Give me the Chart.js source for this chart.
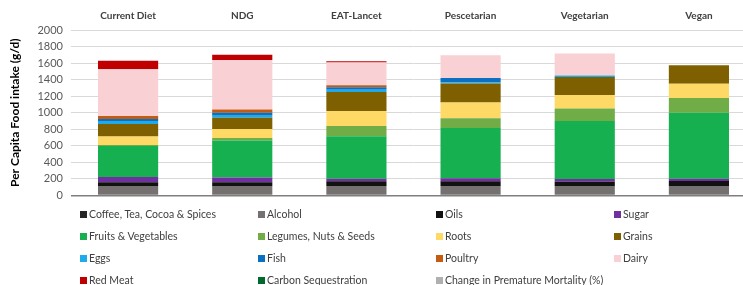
<!DOCTYPE html>
<html>
<head>
<meta charset="utf-8">
<script src="https://cdn.jsdelivr.net/npm/chart.js@4.4.1/dist/chart.umd.min.js"></script>
<style>
  html, body { margin: 0; padding: 0; background: #fff; overflow: hidden; }
  #wrap { position: relative; width: 743px; height: 285px; overflow: hidden; }
  #box { position: absolute; left: 0; top: 0; width: 756px; height: 210px; }
  #legend {
    position: absolute; left: 80px; top: 203px;
    display: grid; grid-template-columns: 178px 178px 178px 130px;
    grid-auto-rows: 22px;
    font-family: Lato, "Liberation Sans", sans-serif; font-size: 10.5px; color: #404040;
  }
  #legend div { display: flex; align-items: center; white-space: nowrap; }
  #legend span.sq { width: 7px; height: 7px; margin-right: 2px; display: inline-block; }
</style>
</head>
<body>
<div id="wrap">
  <div id="box"><canvas id="grafica"></canvas></div>
  <div id="legend"></div>
</div>
<script>
// Dietas (categorías)
const dietas = ['Current Diet', 'NDG', 'EAT-Lancet', 'Pescetarian', 'Vegetarian', 'Vegan'];

// Valores por grupo de alimento (g/d)
const coffee    = [0, 0, 0, 0, 0, 0];
const alcohol   = [113, 113, 113, 113, 113, 113];
const oils      = [45, 45, 57, 57, 52, 60];
const sugar     = [65, 57, 32, 36, 32, 28];
const fruitsVeg = [375, 450, 512, 609, 702, 799];
const legumes   = [10, 28, 125, 117, 153, 177];
const roots     = [105, 109, 182, 190, 161, 174];
const grains    = [150, 137, 230, 230, 218, 222];
const eggs      = [36, 32, 28, 16, 20, 0];
const fish      = [24, 28, 28, 52, 0, 0];
const poultry   = [36, 40, 24, 0, 0, 0];
const dairy     = [565, 597, 275, 275, 266, 0];
const redMeat   = [105, 65, 16, 0, 0, 0];
const carbonSeq = [0, 0, 0, 0, 0, 0];
const mortality = [0, 0, 0, 0, 0, 0];

// Ticks del eje Y
const yTicks = [0, 200, 400, 600, 800, 1000, 1200, 1400, 1600, 1800, 2000];

const series = [
  ['Coffee, Tea, Cocoa & Spices', coffee, '#262626'],
  ['Alcohol', alcohol, '#767171'],
  ['Oils', oils, '#111111'],
  ['Sugar', sugar, '#7030a0'],
  ['Fruits & Vegetables', fruitsVeg, '#17b050'],
  ['Legumes, Nuts & Seeds', legumes, '#70ad47'],
  ['Roots', roots, '#ffd966'],
  ['Grains', grains, '#7f6000'],
  ['Eggs', eggs, '#1eaaeb'],
  ['Fish', fish, '#0a70c2'],
  ['Poultry', poultry, '#c55a11'],
  ['Dairy', dairy, '#f9d0d3'],
  ['Red Meat', redMeat, '#c00000'],
  ['Carbon Sequestration', carbonSeq, '#00692e'],
  ['Change in Premature Mortality (%)', mortality, '#b0b0b0']
];

const chart = new Chart(document.getElementById('grafica'), {
  type: 'bar',
  data: {
    labels: dietas,
    datasets: series.map(s => ({
      label: s[0],
      data: s[1],
      backgroundColor: s[2],
      borderWidth: 0,
      categoryPercentage: 0.527,
      barPercentage: 1
    }))
  },
  options: {
    responsive: true,
    maintainAspectRatio: false,
    animation: false,
    layout: { padding: { left: 8, top: 2, right: 0, bottom: 4 } },
    plugins: { legend: { display: false }, tooltip: { enabled: false } },
    scales: {
      x: {
        position: 'top',
        stacked: true,
        grid: { display: false, drawTicks: false },
        border: { display: false },
        ticks: {
          padding: 8,
          color: '#404040',
          font: { family: 'Lato, "Liberation Sans", sans-serif', size: 10, weight: 'bold' }
        }
      },
      y: {
        stacked: true,
        min: 0,
        max: 2000,
        afterFit: scale => { scale.width = 63; },
        afterBuildTicks: scale => { scale.ticks = yTicks.map(v => ({ value: v })); },
        border: { display: false },
        grid: {
          drawTicks: false,
          color: ctx => ctx.tick && ctx.tick.value === 0 ? '#7f7f7f' : '#d9d9d9',
          lineWidth: ctx => ctx.tick && ctx.tick.value === 0 ? 1.5 : 1
        },
        ticks: {
          autoSkip: false,
          padding: 8,
          color: '#595959',
          callback: v => String(v),
          font: { family: 'Lato, "Liberation Sans", sans-serif', size: 11 }
        },
        title: {
          display: true,
          text: 'Per Capita Food intake (g/d)',
          color: '#000',
          padding: { top: 0, bottom: 2 },
          font: { family: 'Lato, "Liberation Sans", sans-serif', size: 12, weight: 'bold' }
        }
      }
    }
  }
});

// Leyenda en 4 columnas a partir de los datasets
const leyenda = document.getElementById('legend');
chart.data.datasets.forEach(ds => {
  const item = document.createElement('div');
  const sq = document.createElement('span');
  sq.className = 'sq';
  sq.style.background = ds.backgroundColor;
  item.appendChild(sq);
  item.appendChild(document.createTextNode(ds.label));
  leyenda.appendChild(item);
});
</script>
</body>
</html>
